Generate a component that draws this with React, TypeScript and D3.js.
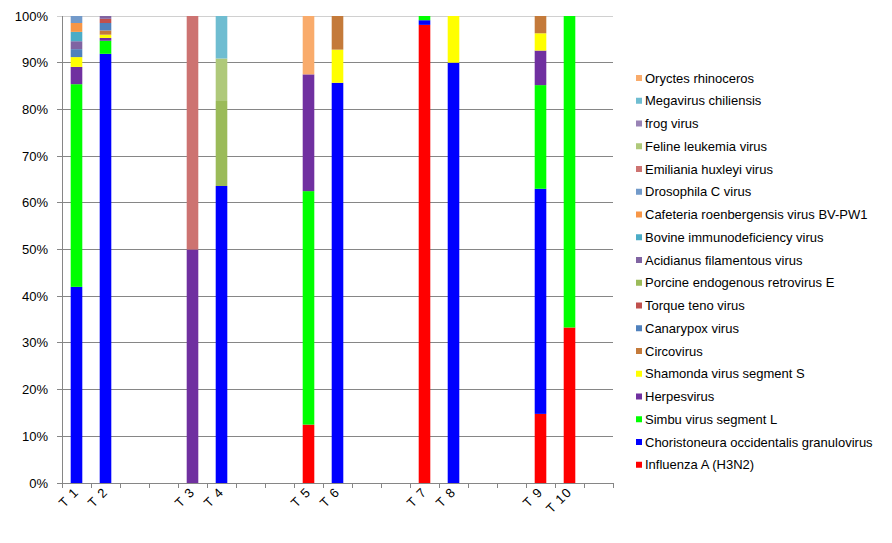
import React from "react";
import * as d3 from "d3";

const categories = ["T 1", "T 2", "", "", "T 3", "T 4", "", "", "T 5", "T 6", "", "", "T 7", "T 8", "", "", "T 9", "T 10", ""];

const seriesNames = [
  "Influenza A (H3N2)",
  "Choristoneura occidentalis granulovirus",
  "Simbu virus segment L",
  "Herpesvirus",
  "Shamonda virus segment S",
  "Circovirus",
  "Canarypox virus",
  "Torque teno virus",
  "Porcine endogenous retrovirus E",
  "Acidianus filamentous virus",
  "Bovine immunodeficiency virus",
  "Cafeteria roenbergensis virus BV-PW1",
  "Drosophila C virus",
  "Emiliania huxleyi virus",
  "Feline leukemia virus",
  "frog virus",
  "Megavirus chiliensis",
  "Oryctes rhinoceros",
];

const seriesColors = [
  "#FF0000", "#0000FF", "#00FF00", "#7030A0", "#FFFF00", "#C47A3A",
  "#4F81BD", "#C0504D", "#9BBB59", "#8064A2", "#4BACC6", "#F79646",
  "#729ACA", "#CD7371", "#AFC97A", "#9983B5", "#6FBDD1", "#F9AB6B",
];

// values in percent, one entry per category slot
const influenza     = [0, 0, 0, 0, 0, 0, 0, 0, 12.5, 0, 0, 0, 98.1, 0, 0, 0, 14.8, 33.3, 0];
const choristoneura = [42.0, 91.9, 0, 0, 0, 63.6, 0, 0, 0, 85.7, 0, 0, 1.0, 90.0, 0, 0, 48.2, 0, 0];
const simbu         = [43.4, 2.8, 0, 0, 0, 0, 0, 0, 50.0, 0, 0, 0, 0.9, 0, 0, 0, 22.2, 66.7, 0];
const herpes        = [3.7, 0.6, 0, 0, 50.0, 0, 0, 0, 25.0, 0, 0, 0, 0, 0, 0, 0, 7.4, 0, 0];
const shamonda      = [2.1, 0.7, 0, 0, 0, 0, 0, 0, 0, 7.1, 0, 0, 0, 10.0, 0, 0, 3.7, 0, 0];
const circovirus    = [0, 0.9, 0, 0, 0, 0, 0, 0, 0, 7.2, 0, 0, 0, 0, 0, 0, 3.7, 0, 0];
const canarypox     = [1.7, 1.6, 0, 0, 0, 0, 0, 0, 0, 0, 0, 0, 0, 0, 0, 0, 0, 0, 0];
const torqueTeno    = [0, 0.9, 0, 0, 0, 0, 0, 0, 0, 0, 0, 0, 0, 0, 0, 0, 0, 0, 0];
const porcine       = [0, 0, 0, 0, 0, 18.2, 0, 0, 0, 0, 0, 0, 0, 0, 0, 0, 0, 0, 0];
const acidianus     = [1.7, 0.6, 0, 0, 0, 0, 0, 0, 0, 0, 0, 0, 0, 0, 0, 0, 0, 0, 0];
const bovine        = [2.0, 0, 0, 0, 0, 0, 0, 0, 0, 0, 0, 0, 0, 0, 0, 0, 0, 0, 0];
const cafeteria     = [1.9, 0, 0, 0, 0, 0, 0, 0, 0, 0, 0, 0, 0, 0, 0, 0, 0, 0, 0];
const drosophila    = [1.5, 0, 0, 0, 0, 0, 0, 0, 0, 0, 0, 0, 0, 0, 0, 0, 0, 0, 0];
const emiliania     = [0, 0, 0, 0, 50.0, 0, 0, 0, 0, 0, 0, 0, 0, 0, 0, 0, 0, 0, 0];
const feline        = [0, 0, 0, 0, 0, 9.1, 0, 0, 0, 0, 0, 0, 0, 0, 0, 0, 0, 0, 0];
const frog          = [0, 0, 0, 0, 0, 0, 0, 0, 0, 0, 0, 0, 0, 0, 0, 0, 0, 0, 0];
const megavirus     = [0, 0, 0, 0, 0, 9.1, 0, 0, 0, 0, 0, 0, 0, 0, 0, 0, 0, 0, 0];
const oryctes       = [0, 0, 0, 0, 0, 0, 0, 0, 12.5, 0, 0, 0, 0, 0, 0, 0, 0, 0, 0];

const seriesValues = [
  influenza, choristoneura, simbu, herpes, shamonda, circovirus, canarypox, torqueTeno,
  porcine, acidianus, bovine, cafeteria, drosophila, emiliania, feline, frog, megavirus, oryctes,
];

const yTicks = [0, 10, 20, 30, 40, 50, 60, 70, 80, 90, 100];

export default function App() {
  const W = 892, H = 543;
  const left = 62, right = 613, top = 16, bottom = 483;
  const font = "Arial, 'Liberation Sans', sans-serif";

  const idx = categories.map((_, i) => i);
  const x = d3.scaleBand<number>().domain(idx).range([left, right]).paddingInner(0.6).paddingOuter(0.3);
  const xOuter = d3.scaleBand<number>().domain(idx).range([left, right]);
  const y = d3.scaleLinear().domain([0, 100]).range([bottom, top]);

  const rows = idx.map((i) => {
    const r: Record<string, number> = { i };
    seriesNames.forEach((n, s) => (r[n] = seriesValues[s][i]));
    return r;
  });
  const stacked = d3.stack<Record<string, number>>().keys(seriesNames).offset(d3.stackOffsetExpand)(rows);

  const legendTop = 78, legendStep = 22.75;
  const legendItems = seriesNames.map((n, s) => ({ n, c: seriesColors[s] })).reverse();

  const boundaries = [...idx.map((i) => xOuter(i)!), right];

  return (
    <svg width={W} height={H} style={{ position: "absolute", left: 0, top: 0, background: "#fff" }}>
      <rect x={0} y={0} width={W} height={H} fill="#fff" />
      {yTicks.map((t) => (
        <g key={t}>
          <line x1={left - 5} x2={right} y1={y(t)} y2={y(t)} stroke={t === 100 ? "#d0d0d0" : "#868686"} strokeWidth={1} shapeRendering="crispEdges" />
          <text x={48} y={y(t) + 4.5} textAnchor="end" fontFamily={font} fontSize={13} fill="#000">{t}%</text>
        </g>
      ))}
      {stacked.map((layer, s) => (
        <g key={seriesNames[s]} fill={seriesColors[s]}>
          {layer.map((d, i) => {
            const h = y(d[0] * 100) - y(d[1] * 100);
            if (!(h > 0)) return null;
            return <rect key={i} x={x(i)} width={x.bandwidth()} y={y(d[1] * 100)} height={h} />;
          })}
        </g>
      ))}
      <line x1={left} x2={left} y1={top} y2={bottom} stroke="#868686" shapeRendering="crispEdges" />
      <line x1={left} x2={right} y1={bottom} y2={bottom} stroke="#868686" shapeRendering="crispEdges" />
      {boundaries.map((b, i) => (
        <line key={i} x1={b} x2={b} y1={bottom} y2={bottom + 5} stroke="#868686" shapeRendering="crispEdges" />
      ))}
      {categories.map((c, i) =>
        c ? (
          <text
            key={i}
            transform={`translate(${x(i)! + x.bandwidth() / 2 + 3},${bottom + 10}) rotate(-45)`}
            textAnchor="end"
            fontFamily={font}
            fontSize={13}
            letterSpacing={1}
            fill="#000"
          >
            {c}
          </text>
        ) : null
      )}
      {legendItems.map((it, k) => (
        <g key={it.n}>
          <rect x={636} y={legendTop + k * legendStep - 3} width={6} height={6} fill={it.c} />
          <text x={645} y={legendTop + k * legendStep + 4.5} fontFamily={font} fontSize={13} fill="#000">{it.n}</text>
        </g>
      ))}
    </svg>
  );
}
